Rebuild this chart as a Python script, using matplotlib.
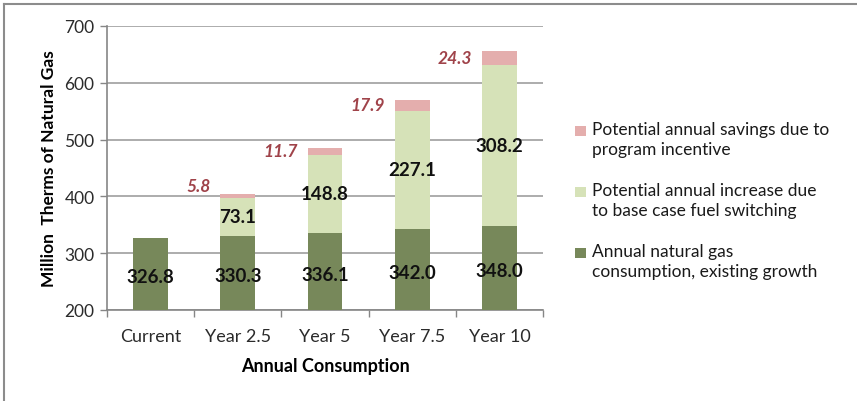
import matplotlib.pyplot as plt
import numpy as np
from matplotlib.patches import Rectangle
from matplotlib.lines import Line2D

plt.rcParams['font.family'] = ['Lato', 'DejaVu Sans']

# --- DATA ---
categories = ["Current", "Year 2.5", "Year 5", "Year 7.5", "Year 10"]
base = [326.8, 330.3, 336.1, 342.0, 348.0]
increase = [0.0, 73.1, 148.8, 227.1, 308.2]
savings = [0.0, 5.8, 11.7, 17.9, 24.3]

legend_labels = [
    "Potential annual savings due to\nprogram incentive",
    "Potential annual increase due\nto base case fuel switching",
    "Annual natural gas\nconsumption, existing growth",
]

c_base = "#77885A"
c_inc = "#D6E2B8"
c_sav = "#E4AEAD"
c_lab = "#A0434A"
grid_c = "#A6A6A6"

base = np.array(base)
increase = np.array(increase)
savings = np.array(savings)
x = np.arange(len(categories))
w = 0.4

# green part shows increase net of savings, pink part the savings on top
inc_net = increase - savings

fig = plt.figure(figsize=(8.57, 4.02), dpi=100)
ax = fig.add_axes([107 / 857, 1 - 311 / 402, 436 / 857, 284 / 402])

ax.bar(x, base, w, color=c_base, zorder=3)
ax.bar(x[1:], inc_net[1:], w, bottom=base[1:], color=c_inc, zorder=3)
ax.bar(x[1:], savings[1:], w, bottom=(base + inc_net)[1:], color=c_sav, zorder=3)

ax.set_ylim(200, 700)
ax.set_xlim(-0.5, len(categories) - 0.5)
ax.set_yticks(np.arange(200, 701, 100))
ax.yaxis.grid(True, color=grid_c, linewidth=1.3, zorder=0)
ax.set_axisbelow(True)

ax.set_xticks(x)
ax.set_xticklabels(categories, fontsize=13, color="#2b2b2b")
ax.set_xticks(np.arange(-0.5, len(categories)), minor=True)
ax.tick_params(axis="x", which="major", length=0, pad=13)
ax.tick_params(axis="x", which="minor", length=5, color="#868686", width=1)
ax.tick_params(axis="y", length=5, color="#868686", width=1, labelsize=12.5,
               labelcolor="#2b2b2b", pad=4)

for s in ["top", "right"]:
    ax.spines[s].set_visible(False)
for s in ["left", "bottom"]:
    ax.spines[s].set_color("#868686")
    ax.spines[s].set_linewidth(1.2)

ax.set_xlabel("Annual Consumption", fontsize=13, fontweight="bold", labelpad=9)
ax.set_ylabel("Million  Therms of Natural Gas", fontsize=12.5, fontweight="bold", labelpad=5)

# value labels
for i in range(len(categories)):
    ax.text(x[i], (200 + base[i]) / 2 - 5, f"{base[i]:.1f}", ha="center", va="center",
            fontsize=13.5, fontweight="bold", color="#111111", zorder=4)
    if increase[i] > 0:
        ax.text(x[i], base[i] + inc_net[i] / 2, f"{increase[i]:.1f}", ha="center",
                va="center", fontsize=13.5, fontweight="bold", color="#111111", zorder=4)
        ymid = base[i] + inc_net[i] + savings[i] / 2
        dy = 7 if savings[i] < 8 else 0
        ax.annotate(f"{savings[i]:.1f}", (x[i] - w / 2, ymid), xytext=(-7, dy),
                    textcoords="offset points", ha="right", va="center",
                    fontsize=12.5, fontweight="bold", style="italic", color=c_lab)

# legend, patch aligned with first text line
leg_colors = [c_sav, c_inc, c_base]
for k, (lab, col) in enumerate(zip(legend_labels, leg_colors)):
    ytop = 1 - (132 + 61 * k) / 402
    fig.patches.append(Rectangle((575 / 857, ytop - 5 / 402), 11 / 857, 10 / 402,
                                 transform=fig.transFigure, facecolor=col,
                                 edgecolor="none"))
    fig.text(592 / 857, ytop + 10 / 402, lab, ha="left", va="top", fontsize=12.5,
             color="#1a1a1a", linespacing=1.3)

# outer frame (top and left)
fig.add_artist(Line2D([4 / 857, 1], [1 - 5 / 402, 1 - 5 / 402], color="#8c8c8c",
                      linewidth=1.5, transform=fig.transFigure))
fig.add_artist(Line2D([4 / 857, 4 / 857], [0, 1 - 5 / 402], color="#8c8c8c",
                      linewidth=1.5, transform=fig.transFigure))

fig.savefig("out.png", dpi=100)
